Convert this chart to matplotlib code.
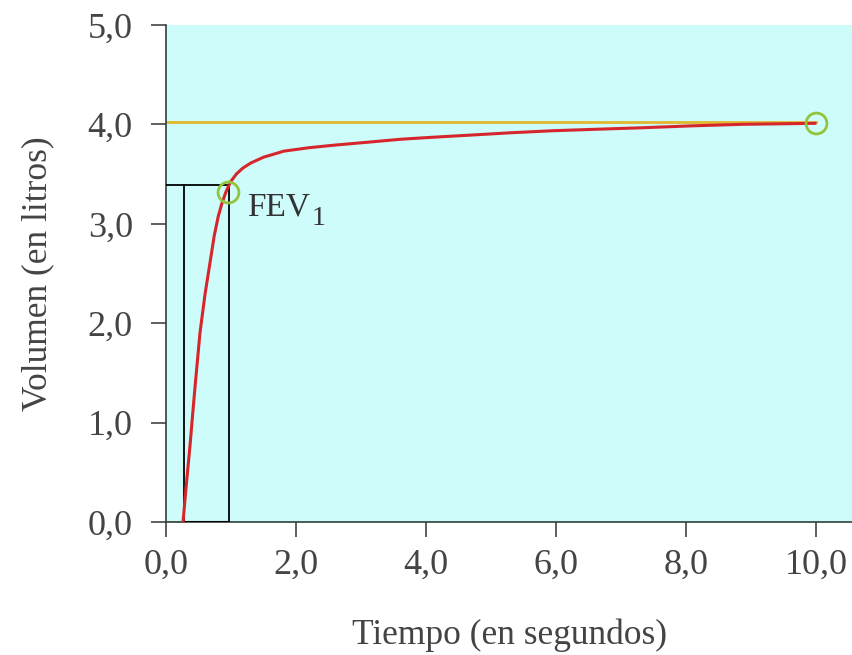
import matplotlib.pyplot as plt
import matplotlib.ticker as tck

# curva volumen-tiempo
tiempo = [0.26, 0.30, 0.34, 0.37, 0.41, 0.45, 0.52, 0.60, 0.68, 0.74, 0.80, 0.86,
          0.92, 0.99, 1.08, 1.18, 1.30, 1.50, 1.81, 2.20, 2.58, 3.1, 3.61, 4.1,
          4.64, 5.3, 5.93, 6.6, 7.31, 8.1, 8.86, 9.98]
volumen = [0.0, 0.30, 0.58, 0.79, 1.10, 1.40, 1.90, 2.30, 2.63, 2.88, 3.07, 3.21,
           3.32, 3.42, 3.50, 3.56, 3.61, 3.67, 3.73, 3.765, 3.79, 3.82, 3.85, 3.87,
           3.89, 3.915, 3.935, 3.95, 3.965, 3.985, 4.0, 4.01]
fvc = 4.02
fev1 = 3.39
t_inicio = 0.27
t_fev1 = 0.96
circulos_t = [0.95, 10.0]
circulos_v = [3.32, 4.01]
xticks = [0, 2, 4, 6, 8, 10]
yticks = [0, 1, 2, 3, 4, 5]

plt.rcParams['font.family'] = 'Liberation Serif'
fig = plt.figure(figsize=(8.52, 6.55), dpi=100)
ax = fig.add_axes([0.195, 0.203, 0.805, 0.759])
ax.set_facecolor('#cdfcfa')

ax.plot([0, 10], [fvc, fvc], color='#e3b72c', lw=2, zorder=2)
ax.plot([0.06, t_inicio], [0, 0], color='#a8c84a', lw=2, zorder=2)
ax.plot([0, t_fev1], [fev1, fev1], color='black', lw=1.3, zorder=3)
ax.plot([t_inicio, t_inicio], [0, fev1], color='black', lw=1.3, zorder=3)
ax.plot([t_fev1, t_fev1], [0, fev1], color='black', lw=1.3, zorder=3)
ax.plot([t_inicio, t_fev1], [0, 0], color='black', lw=1.5, zorder=3)
ax.plot(tiempo, volumen, color='#d7262b', lw=2.2, zorder=4, solid_joinstyle='round')
ax.plot(circulos_t, circulos_v, 'o', ms=15, mfc='none', mec='#92c43c', mew=2, zorder=5)

ax.text(1.25, 3.17, 'FEV', fontsize=24, color='#333333', va='center')
ax.text(2.24, 3.05, '1', fontsize=20, color='#333333', va='center')

ax.set_xlim(0, 10.55)
ax.set_ylim(0, 5)
ax.set_xticks(xticks)
ax.set_yticks(yticks)
fmt = tck.FuncFormatter(lambda v, p: ('%.1f' % v).replace('.', ','))
ax.xaxis.set_major_formatter(fmt)
ax.yaxis.set_major_formatter(fmt)
ax.tick_params(labelsize=26, colors='#444444', length=11, width=1.2)
ax.tick_params(axis='x', pad=8)
ax.tick_params(axis='y', pad=13)

for s in ['top', 'right']:
    ax.spines[s].set_visible(False)
for s in ['left', 'bottom']:
    ax.spines[s].set_color('#2f3f3f')
    ax.spines[s].set_linewidth(1.2)

ax.set_xlabel('Tiempo (en segundos)', fontsize=25.5, color='#444444', labelpad=27)
ax.set_ylabel('Volumen (en litros)', fontsize=25.5, color='#444444', labelpad=24)

plt.savefig('out.png')
